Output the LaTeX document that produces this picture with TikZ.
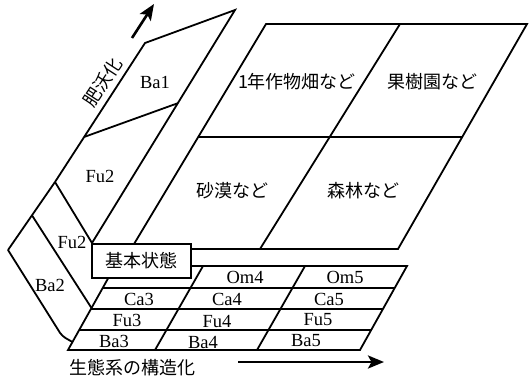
\documentclass[tikz,border=0pt]{standalone}
\usepackage{fontspec}
\setmainfont{Liberation Serif}
\newfontfamily\jp{Noto Sans CJK JP}
\usetikzlibrary{arrows.meta,calc}
\begin{document}
\begin{tikzpicture}[x=1pt,y=-1pt,
  edge/.style={line width=1.8pt, line join=miter},
  lbl/.style={font=\fontsize{18.5}{18.5}\selectfont, inner sep=0pt},
  jlbl/.style={font=\fontsize{18}{18}\selectfont\jp, inner sep=0pt},
  axisarrow/.style={line width=2.6pt, -{Stealth[length=16pt,width=13pt,inset=3.5pt]}},
  basebox/.style={draw, fill=white, line width=1.8pt, minimum width=99pt, minimum height=34pt, inner sep=0pt}]
\useasboundingbox (0,0) rectangle (530,380);
% ---------- coordinates ----------
% big parallelogram
\coordinate (Q1) at (266,24);
\coordinate (Q2) at (527,24);
\coordinate (Q3) at (398,249);
\coordinate (Q4) at (131,249);
\coordinate (QM1) at (400,24);
\coordinate (QM2) at (260,249);
% tall strip (Ba1 / Fu2)
\coordinate (S1) at (145,43);
\coordinate (S2) at (235,10);
\coordinate (S3) at (92,243);
\coordinate (S4) at (55,182);
% Ba2 panel
\coordinate (L1) at (8,250);
\coordinate (L2) at ($(L1)!0.51!(S4)$);
\coordinate (L3) at (62,336);
% grid
\coordinate (GL0) at (115,266);
\coordinate (GL4) at (68,350);
\coordinate (GR0) at (407,266);
\coordinate (GR4) at (360,350);
\coordinate (GD1a) at (203,266);
\coordinate (GD1b) at (155,350);
\coordinate (GD2a) at (305,266);
\coordinate (GD2b) at (257,350);
% ---------- big parallelogram ----------
\draw[edge] (Q1) -- (Q2) -- (Q3) -- (Q4) -- cycle;
\draw[edge] (QM1) -- (QM2);
\draw[edge] ($(Q1)!0.502!(Q4)$) -- ($(Q2)!0.502!(Q3)$);
% ---------- tall strip ----------
\draw[edge] (S4) -- (S1) -- (S2) -- (S3);
\draw[edge] (S4) -- (S3);
\draw[edge] ($(S1)!0.676!(S4)$) -- ($(S2)!0.40!(S3)$);
% ---------- Ba2 / small Fu2 ----------
\draw[edge] (L1) -- (S4);
\draw[edge] (L2) -- ($(GL0)!0.5!(GL4)$);
\draw[edge, rounded corners=4pt] (L1) -- (L3) -- ($(GL0)!0.905!(GL4)$);
% ---------- grid ----------
\draw[edge] (GL0) -- (GR0) -- (GR4) -- (GL4) -- cycle;
\foreach \t in {0.262,0.512,0.762}
  \draw[edge] ($(GL0)!\t!(GL4)$) -- ($(GR0)!\t!(GR4)$);
\draw[edge] (GD1a) -- (GD1b);
\draw[edge] (GD2a) -- (GD2b);
% ---------- base box ----------
\node[basebox, jlbl] (base) at (141.5,261) {基本状態};
% ---------- labels ----------
\node[jlbl] (t1) at (297,82) {1年作物畑など};
\node[jlbl] (t2) at (432,82) {果樹園など};
\node[jlbl] (t3) at (232,191) {砂漠など};
\node[jlbl] (t4) at (363,191) {森林など};
\node[lbl] (ba1) at (155,82) {Ba1};
\node[lbl] (fu2a) at (100,176) {Fu2};
\node[lbl] (fu2b) at (72,242) {Fu2};
\node[lbl] (ba2) at (50,285) {Ba2};
\node[lbl] (om4) at (245,277) {Om4};
\node[lbl] (om5) at (345,277) {Om5};
\node[lbl] (ca3) at (139,299) {Ca3};
\node[lbl] (ca4) at (227,299) {Ca4};
\node[lbl] (ca5) at (329,299) {Ca5};
\node[lbl] (fu3) at (127,320) {Fu3};
\node[lbl] (fu4) at (217,321) {Fu4};
\node[lbl] (fu5) at (318,320) {Fu5};
\node[lbl] (ba3) at (114,341) {Ba3};
\node[lbl] (ba4) at (203,342) {Ba4};
\node[lbl] (ba5) at (306,341) {Ba5};
% ---------- axes ----------
\node[jlbl, rotate=57] (fert) at (103,82) {肥沃化};
\node[jlbl] (struct) at (132.5,368) {生態系の構造化};
\coordinate (ua0) at (132,38);
\coordinate (ua1) at (154,4);
\draw[axisarrow] (ua0) -- (ua1);
\coordinate (ba0) at (238,362);
\coordinate (baend) at (384,362);
\draw[axisarrow] (ba0) -- (baend);
\end{tikzpicture}
\end{document}
